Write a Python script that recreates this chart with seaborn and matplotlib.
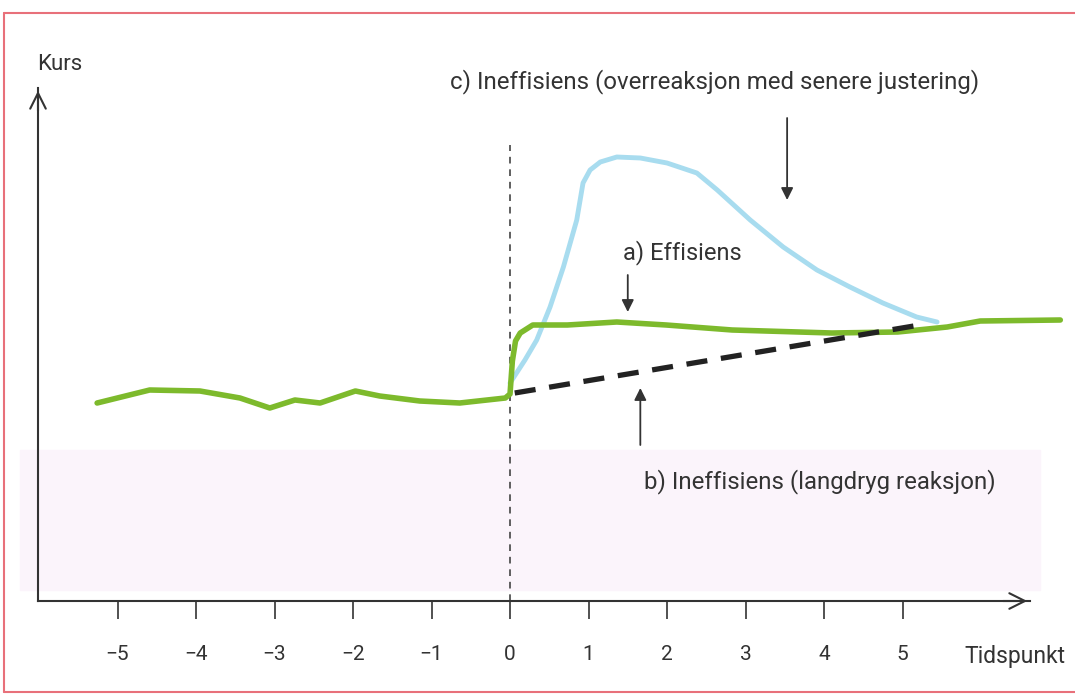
import numpy as np
import pandas as pd
import matplotlib
matplotlib.use("Agg")
import matplotlib.pyplot as plt
from matplotlib.patches import Rectangle
from matplotlib.lines import Line2D
import seaborn as sns

# Kursbane a) effisient marked
eff_t = [-5.26, -4.59, -3.95, -3.44, -3.06, -2.74, -2.42, -1.97, -1.66, -1.15, -0.64, -0.06,
         0.0, 0.03, 0.07, 0.13, 0.29, 0.73, 1.36, 1.99, 2.83, 4.10, 4.94, 5.57, 5.99, 7.01]
eff_kurs = [1.98, 2.11, 2.10, 2.03, 1.93, 2.01, 1.98, 2.10, 2.05, 2.00, 1.98, 2.03,
            2.07, 2.40, 2.60, 2.68, 2.76, 2.76, 2.79, 2.76, 2.71, 2.68, 2.69, 2.74, 2.80, 2.81]

# c) overreaksjon med senere justering
over_t = [0.0, 0.19, 0.34, 0.51, 0.68, 0.85, 0.93, 1.02, 1.15, 1.36, 1.66, 2.00, 2.38,
          2.64, 3.06, 3.48, 3.91, 4.33, 4.75, 5.18, 5.44]
over_kurs = [2.18, 2.41, 2.61, 2.94, 3.34, 3.81, 4.18, 4.31, 4.39, 4.44, 4.43, 4.38, 4.28,
             4.11, 3.81, 3.54, 3.31, 3.14, 2.98, 2.84, 2.79]

# b) langdryg reaksjon
slow_t = [0.06, 5.22]
slow_kurs = [2.08, 2.76]

ticks = [-5, -4, -3, -2, -1, 0, 1, 2, 3, 4, 5]

sns.set_theme(style="white")
plt.rcParams['font.family'] = ['Roboto', 'DejaVu Sans']

W, H = 1075, 698
fig = plt.figure(figsize=(W / 100, H / 100), dpi=100)

# bakgrunn: svakt rosa bånd og rød ramme fra originalen
fig.patches.append(Rectangle((20 / W, 1 - 590 / H), 1020 / W, 140 / H,
                             transform=fig.transFigure, color='#fbf4fb', zorder=-5))
for xs, ys in [([4, 4], [13, 692]), ([4, 1075], [13, 13]), ([4, 1075], [692, 692])]:
    fig.add_artist(Line2D([x / W for x in xs], [1 - y / H for y in ys],
                          transform=fig.transFigure, color='#e8707a', lw=1.5, zorder=-5))

ax = fig.add_axes([38 / W, 1 - 601 / H, (1030 - 38) / W, (601 - 88) / H])
ax.set_zorder(2)
ax.patch.set_alpha(0)
ax.set_xlim(-6.013, 6.624)
ax.set_ylim(0, 5.13)

ink = '#333333'
df_eff = pd.DataFrame({'t': eff_t, 'kurs': eff_kurs})
df_over = pd.DataFrame({'t': over_t, 'kurs': over_kurs})
df_slow = pd.DataFrame({'t': slow_t, 'kurs': slow_kurs})

ax.plot([0, 0], [0, 4.56], color='#444444', lw=1.2, dashes=(4, 3.5), zorder=1)
sns.lineplot(data=df_over, x='t', y='kurs', sort=False, ax=ax, color='#a8dcef',
             lw=3.5, zorder=2, solid_capstyle='round', solid_joinstyle='round')
sns.lineplot(data=df_slow, x='t', y='kurs', sort=False, ax=ax, color='#222222',
             lw=3.8, zorder=4, dashes=(4, 2.6))
sns.lineplot(data=df_eff, x='t', y='kurs', sort=False, ax=ax, color='#7dba2c',
             lw=4.0, zorder=3, solid_capstyle='round', solid_joinstyle='round')
for l in ax.lines:
    l.set_clip_on(False)

# akser
sns.despine(ax=ax)
for s in ['left', 'bottom']:
    ax.spines[s].set_color(ink)
    ax.spines[s].set_linewidth(1.5)
ax.set_yticks([])
ax.set_xticks(ticks)
ax.set_xticklabels([str(t).replace('-', '\u2212') for t in ticks])
ax.tick_params(axis='x', direction='out', length=13, width=1.2, color=ink,
               pad=19, labelsize=15, labelcolor=ink, bottom=True)
ax.set_xlabel('')
ax.set_ylabel('')

ax.annotate('', xy=(1.0, 0), xytext=(0.97, 0), xycoords='axes fraction',
            arrowprops=dict(arrowstyle='->', lw=1.5, color=ink, mutation_scale=28))
ax.annotate('', xy=(0, 1.0), xytext=(0, 0.95), xycoords='axes fraction',
            arrowprops=dict(arrowstyle='->', lw=1.5, color=ink, mutation_scale=28))

ax.text(-6.03, 5.36, 'Kurs', fontsize=16, color=ink, ha='left', va='center', clip_on=False)
ax.text(6.43, -0.56, 'Tidspunkt', fontsize=16.5, color=ink, ha='center', va='center',
        clip_on=False)

ax.text(2.61, 5.19, 'c) Ineffisiens (overreaksjon med senere justering)', fontsize=17.3,
        color=ink, ha='center', va='center', clip_on=False)
ax.text(2.20, 3.48, 'a) Effisiens', fontsize=17, color=ink, ha='center', va='center')
ax.text(3.95, 1.19, 'b) Ineffisiens (langdryg reaksjon)', fontsize=17.3, color=ink,
        ha='center', va='center')

arrow = dict(arrowstyle='-|>', lw=1.3, color=ink, mutation_scale=18, shrinkA=0, shrinkB=0)
ax.annotate('', xy=(3.53, 4.01), xytext=(3.53, 4.83), arrowprops=arrow)
ax.annotate('', xy=(1.50, 2.89), xytext=(1.50, 3.26), arrowprops=arrow)
ax.annotate('', xy=(1.66, 2.13), xytext=(1.66, 1.56), arrowprops=arrow)

fig.savefig('out.png', dpi=100)
